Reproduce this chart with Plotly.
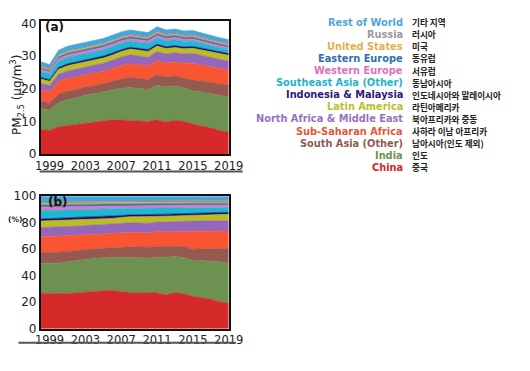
import plotly.graph_objects as go

W, H = 530, 371

years = list(range(1998, 2020))
tick_years = [1999, 2003, 2007, 2011, 2015, 2019]

# global population-weighted PM2.5 (ug/m3), top of the stack in panel (a)
total_pm25 = [28.3, 27.4, 31.8, 33.0, 33.6, 34.2, 34.7, 35.4, 36.4, 37.4, 38.0,
              37.6, 37.2, 39.0, 38.0, 38.3, 37.7, 37.8, 37.0, 36.2, 35.6, 35.0]

# regional shares (%), bottom to top
share_china = [26.7, 26.5, 26.4, 26.5, 27.0, 27.7, 28.2, 28.7, 28.9, 27.9, 27.3,
               27.0, 26.8, 27.0, 25.7, 27.2, 26.5, 24.3, 23.3, 22.3, 20.4, 19.2]
share_india = [22.8, 22.8, 23.1, 24.0, 24.5, 25.0, 25.0, 24.8, 24.9, 26.0, 26.4,
               26.5, 26.6, 27.0, 28.3, 27.4, 27.3, 26.9, 28.2, 28.7, 30.1, 30.8]
share_south_asia = [8.0, 8.2, 8.3, 7.8, 7.5, 7.3, 7.1, 7.3, 7.4, 7.6, 8.1,
                    8.1, 8.1, 8.3, 8.2, 7.9, 8.2, 8.8, 9.0, 9.5, 10.0, 10.5]
share_ssa = [12.0, 12.0, 12.2, 12.0, 11.5, 10.8, 10.9, 10.8, 10.8, 11.0, 11.0,
             11.0, 11.0, 11.0, 11.1, 11.1, 11.8, 13.5, 13.1, 13.1, 13.2, 13.2]
share_name = [7.0, 7.1, 6.8, 6.9, 7.0, 7.2, 7.1, 7.0, 7.0, 7.0, 7.2,
              7.2, 7.2, 7.2, 7.4, 7.4, 7.7, 8.0, 7.9, 7.9, 7.8, 7.8]
share_latam = [4.8, 4.9, 4.9, 4.8, 4.8, 4.6, 4.6, 4.4, 4.3, 4.5, 4.6,
               4.8, 4.8, 4.3, 4.3, 4.2, 4.0, 4.2, 4.5, 4.7, 4.8, 4.9]
share_indo_malay = [1.7, 1.5, 1.7, 1.8, 1.7, 1.7, 1.7, 1.8, 1.7, 1.5, 1.4,
                    1.4, 1.5, 1.5, 1.5, 1.5, 1.5, 1.5, 1.5, 1.5, 1.5, 1.5]
share_se_asia = [6.4, 6.3, 6.1, 5.9, 5.8, 5.7, 5.6, 5.5, 5.5, 5.3, 5.0,
                 5.0, 5.0, 4.9, 4.8, 4.7, 4.5, 4.3, 4.0, 3.8, 3.7, 3.6]
share_w_europe = [2.4, 2.5, 2.4, 2.3, 2.2, 2.2, 2.1, 2.1, 2.0, 1.9, 1.9,
                  2.0, 2.0, 1.9, 1.8, 1.8, 1.7, 1.7, 1.7, 1.7, 1.7, 1.7]
share_e_europe = [1.7, 1.7, 1.7, 1.7, 1.7, 1.7, 1.7, 1.7, 1.7, 1.7, 1.7,
                  1.6, 1.6, 1.6, 1.6, 1.6, 1.6, 1.6, 1.6, 1.6, 1.6, 1.6]
share_us = [1.2, 1.2, 1.2, 1.2, 1.2, 1.1, 1.1, 1.1, 1.1, 1.0, 1.0,
            1.0, 1.0, 1.0, 1.0, 1.0, 0.9, 0.9, 0.9, 0.9, 0.9, 0.9]
share_russia = [0.9, 0.9, 0.9, 0.9, 0.9, 0.9, 0.9, 0.9, 0.9, 0.9, 0.9,
                0.9, 0.9, 1.0, 1.0, 1.0, 1.1, 1.1, 1.1, 1.2, 1.2, 1.2]
share_rest = [4.4, 4.4, 4.3, 4.2, 4.2, 4.1, 4.0, 3.9, 3.8, 3.7, 3.5,
              3.5, 3.5, 3.3, 3.3, 3.2, 3.2, 3.2, 3.2, 3.1, 3.1, 3.1]

region_names = ["China", "India", "South Asia (Other)", "Sub-Saharan Africa",
                "North Africa & Middle East", "Latin America", "Indonesia & Malaysia",
                "Southeast Asia (Other)", "Western Europe", "Eastern Europe",
                "United States", "Russia", "Rest of World"]
region_korean = ["중국", "인도", "남아시아(인도 제외)", "사하라 이남 아프리카",
                 "북아프리카와 중동", "라틴아메리카", "인도네시아와 말레이시아",
                 "동남아시아", "서유럽", "동유럽", "미국", "러시아", "기타 지역"]
region_shares = [share_china, share_india, share_south_asia, share_ssa, share_name,
                 share_latam, share_indo_malay, share_se_asia, share_w_europe,
                 share_e_europe, share_us, share_russia, share_rest]
fill_colors = ["#d62a2a", "#6d9150", "#96594f", "#fa5532", "#9467bd", "#bcbd22",
               "#22106e", "#1fb8d2", "#e377c2", "#3a78b8", "#dba74a", "#8f8f8f",
               "#45a6dc"]
text_colors = ["#d62728", "#6a9150", "#8c5a50", "#e8553a", "#9a70c0", "#b8c030",
               "#2a1a7a", "#1fb5c8", "#e070c0", "#2c6fae", "#e0b050", "#9a9a9a",
               "#4ea6d9"]

fig = go.Figure()

for name, share, col in zip(region_names, region_shares, fill_colors):
    absval = [s * t / 100.0 for s, t in zip(share, total_pm25)]
    fig.add_trace(go.Scatter(x=years, y=absval, name=name, stackgroup="a",
                             mode="lines", line=dict(width=0.6, color=col),
                             fillcolor=col, xaxis="x", yaxis="y",
                             showlegend=False))
    fig.add_trace(go.Scatter(x=years, y=share, name=name, stackgroup="b",
                             groupnorm="percent",
                             mode="lines", line=dict(width=0.6, color=col),
                             fillcolor=col, xaxis="x2", yaxis="y2",
                             showlegend=False))

def px(v):
    return v / W

def py(v):
    return 1 - v / H

axis_common = dict(showline=True, mirror=True, linecolor="#111", linewidth=1.5,
                   showgrid=False, zeroline=False, ticks="",
                   tickfont=dict(family="DejaVu Sans", size=12, color="#222"))
xtick_font = dict(family="DejaVu Sans", size=11.5, color="#222")

fig.update_layout(
    width=W, height=H, margin=dict(l=0, r=0, t=0, b=0),
    paper_bgcolor="white", plot_bgcolor="white",
    xaxis=dict(domain=[px(37), px(232.5)], range=[1998, 2019], anchor="y",
               tickvals=tick_years, **{**axis_common, "tickfont": xtick_font}),
    yaxis=dict(domain=[py(153), py(15)], range=[0, 40.6], anchor="x",
               tickvals=[0, 10, 20, 30, 40], **axis_common),
    xaxis2=dict(domain=[px(37), px(232.5)], range=[1998, 2019], anchor="y2",
                tickvals=tick_years, **{**axis_common, "tickfont": xtick_font}),
    yaxis2=dict(domain=[py(334.3), py(196.7)], range=[0, 100], anchor="x2",
                tickvals=[0, 20, 40, 60, 80, 100], **axis_common),
)

ann = []
# panel labels
ann.append(dict(text="<b>(a)</b>", x=px(40), y=py(21), xref="paper", yref="paper",
                xanchor="left", yanchor="middle", showarrow=False,
                font=dict(family="DejaVu Sans", size=12, color="#111")))
ann.append(dict(text="<b>(b)</b>", x=px(43), y=py(203), xref="paper", yref="paper",
                xanchor="left", yanchor="middle", showarrow=False,
                font=dict(family="DejaVu Sans", size=12, color="#111")))
# axis titles
ann.append(dict(text="PM<sub>2.5</sub> (μg/m<sup>3</sup>)", x=px(12), y=py(92),
                xref="paper", yref="paper", xanchor="center", yanchor="middle",
                textangle=-90, showarrow=False,
                font=dict(family="DejaVu Sans", size=12, color="#222")))
ann.append(dict(text="<b>(%)</b>", x=px(2), y=py(221), xref="paper", yref="paper",
                xanchor="left", yanchor="middle", showarrow=False, borderpad=0,
                font=dict(family="DejaVu Sans", size=7.5, color="#222")))

# legend text (top row = Rest of World)
for i in range(len(region_names)):
    k = len(region_names) - 1 - i
    yc = 15.7 + 12.58 * i
    ann.append(dict(text="<b>" + region_names[k] + "</b>", x=px(415), y=py(yc),
                    xref="paper", yref="paper", xanchor="right", yanchor="middle",
                    showarrow=False, borderpad=0,
                    font=dict(family="DejaVu Sans", size=9.8, color=text_colors[k])))
    ann.append(dict(text="<b>" + region_korean[k] + "</b>", x=px(422), y=py(yc),
                    xref="paper", yref="paper", xanchor="left", yanchor="middle",
                    showarrow=False, borderpad=0,
                    font=dict(family="Noto Sans CJK KR", size=8.6, color="#222")))

fig.update_layout(annotations=ann)

fig.update_layout(shapes=[
    dict(type="line", xref="paper", yref="paper", x0=px(36), x1=px(247),
         y0=py(171), y1=py(171), line=dict(color="#555", width=2)),
    dict(type="line", xref="paper", yref="paper", x0=px(14), x1=px(240),
         y0=py(349), y1=py(349), line=dict(color="#555", width=2)),
])

fig.write_html(
    "out.html",
    config={"displayModeBar": False},
    post_script="document.body.style.margin='0';document.body.style.padding='0';"
                "document.documentElement.style.overflow='hidden';",
)
